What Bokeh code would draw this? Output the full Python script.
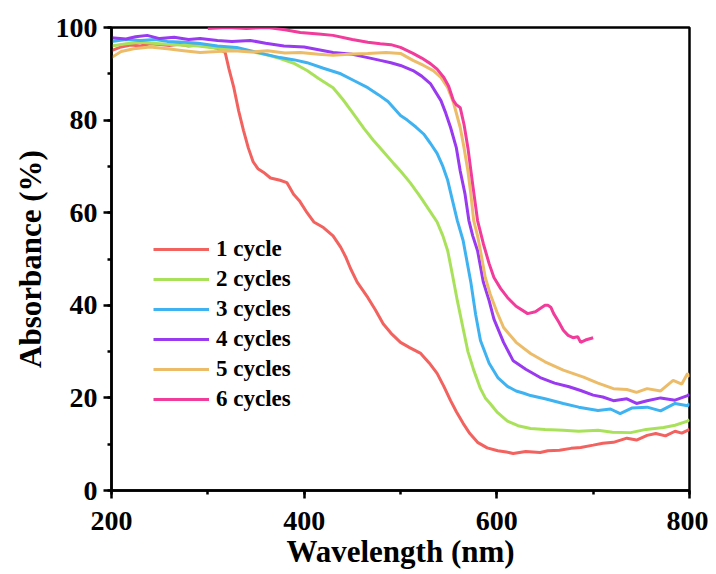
from bokeh.plotting import figure
from bokeh.models import Range1d, SingleIntervalTicker, Legend, LegendItem
from bokeh.embed import file_html
from bokeh.resources import INLINE

# ---- data ----
labels = ["1 cycle", "2 cycles", "3 cycles", "4 cycles", "5 cycles", "6 cycles"]
colors = ["#F2625E", "#A9E25A", "#3FB3F1", "#9A3AF0", "#ECBC68", "#F23C9C"]

x1 = [200,210,220,230,240,250,260,270,280,290,300,310,318,322,327,332,337,342,347,352,358,365,375,382,389,395,403,410,420,430,438,443,448,455,466,474,482,490,500,510,521,530,538,545,552,558,565,572,580,590,601,610,617,630,645,653,665,677,687,700,710,721,735,745,756,765,775,785,792,798,800]
y1 = [95,95.8,96.2,96,96.5,96.3,96.1,96.4,96,96.2,95.9,95.5,94.6,91,87,82,77.8,74,71,69.5,68.7,67.5,67,66.5,64,62.6,60,58,56.8,55,52.5,50.5,48,45,41.7,39,36,34,32,30.8,29.6,27.5,25.3,22.5,19.4,17,14.5,12.3,10.4,9.2,8.6,8.3,8,8.4,8.2,8.6,8.7,9.1,9.3,9.8,10.2,10.4,11.3,10.9,11.9,12.3,11.8,12.8,12.4,13,13.2]

x2 = [200,215,230,250,270,290,310,330,345,355,365,375,390,403,415,430,440,451,462,472,483,493,500,510,521,530,538,544,549,554,559,565,570,576,583,588,593,600,611,622,635,650,669,685,705,720,739,755,773,785,798,800]
y2 = [96,96.5,96.8,96.5,96.2,96,95.5,95.2,94.8,94.4,93.9,93.3,92.2,90.7,89,87,84.5,81.4,78.2,75.6,73,70.6,69,66.5,63.3,60.5,58,55,51.8,46.5,41,35,30,26,22,20,18.8,17,15,14,13.4,13.2,13,12.8,13,12.6,12.5,13.2,13.6,14.1,15,15.3]

x3 = [200,215,230,245,258,275,290,310,330,344,360,375,390,403,420,438,452,466,477,487,500,507,516,524,531,538,544,549,554,559,565,573,578,583,592,601,611,620,628,635,650,669,685,705,718,728,740,756,770,785,798,800]
y3 = [97,97.4,97.2,97.4,97,96.8,96.6,96,95.7,95,94.2,93.5,93,92.4,91.2,90,88.5,87,85.5,84,81,80,78.5,77,75,72.8,70,67,62.6,58.3,54,45,38,32.4,27.5,24.4,22.5,21.5,21,20.5,19.8,18.8,18,17.3,17.6,16.6,17.8,18,17.2,18.8,18.3,18.8]

x4 = [200,215,225,237,250,265,280,292,310,325,344,360,379,400,415,430,450,466,479,490,500,513,522,531,542,547,552,558,562,567,571,575,580,586,592,597,607,617,630,645,660,675,687,700,710,721,735,745,756,770,785,798,800]
y4 = [97.8,97.5,98,98.3,97.6,97.9,97.4,97.6,97.2,97,97.2,96.6,96,95.8,95.2,94.6,94.2,93.5,92.9,92.4,91.8,90.7,89.5,87.9,84.2,81.5,78.4,74,69,64,58.3,55,51.8,45,41,37,32,28,26.2,24.4,23.2,22.4,21.6,20.6,20.2,19.4,19.8,18.8,19.4,20,19.5,20.5,20.8]

x5 = [200,210,223,240,258,275,292,310,327,345,362,380,396,415,430,450,466,485,500,513,524,534,542,549,555,562,566,570,573,576,580,583,588,593,600,607,620,635,650,669,690,705,721,735,745,756,770,783,792,798,800]
y5 = [93.5,94.8,95.4,95.8,95.4,95,94.6,94.8,95,94.7,95,94.5,94.6,94.2,94,94.3,94.4,94.6,94.4,92.9,91.8,90.7,89.2,87,83.8,78.4,74,69,64,58.3,55,51.8,46,42.5,38.6,35.2,32,29.6,27.8,26,24.5,23.2,22,21.8,21.2,22,21.5,23.8,23,25.3,24.5]

x6 = [300,320,340,362,380,396,415,430,450,466,479,490,500,513,522,531,538,545,550,555,558,562,566,570,575,580,586,592,597,604,611,620,632,640,645,650,653,656,659,664,669,674,679,684,687,692,700]
y6 = [99.8,100,99.8,100,99.5,98.9,98.6,98.3,97.4,96.8,96.5,96.3,95.7,94.4,93.4,92.2,91,89.2,87.3,84.2,83.3,82.7,79,74,66,58.3,53.3,49,46,43.6,41.7,39.8,38.2,38.6,39.3,40,40,39.6,38.2,36.5,34.6,33.5,33,33.2,32,32.5,33]

xs = [x1, x2, x3, x4, x5, x6]
ys = [y1, y2, y3, y4, y5, y6]

FONT = "Liberation Serif"

p = figure(width=708, height=574, output_backend="svg", toolbar_location=None,
           x_range=Range1d(200, 800), y_range=Range1d(0, 100),
           min_border_left=111, min_border_right=19, min_border_top=27, min_border_bottom=84)
p.xgrid.visible = False
p.ygrid.visible = False
p.outline_line_color = "black"
p.outline_line_width = 2.5
p.outline_line_alpha = 1.0

p.xaxis.ticker = SingleIntervalTicker(interval=200, num_minor_ticks=2)
p.yaxis.ticker = SingleIntervalTicker(interval=20, num_minor_ticks=2)

for ax in (p.xaxis[0], p.yaxis[0]):
    ax.axis_line_width = 2.5
    ax.major_tick_line_width = 2.5
    ax.minor_tick_line_width = 2.5
    ax.major_tick_in = 0
    ax.major_tick_out = 8
    ax.minor_tick_in = 0
    ax.minor_tick_out = 4
    ax.major_label_text_font = FONT
    ax.major_label_text_font_style = "bold"
    ax.major_label_text_font_size = "28px"
    ax.major_label_text_color = "black"
    ax.axis_label_text_font = FONT
    ax.axis_label_text_font_style = "bold"
    ax.axis_label_text_font_size = "31px"
    ax.axis_label_text_color = "black"

p.xaxis.axis_label = "Wavelength (nm)"
p.yaxis.axis_label = "Absorbance (%)"
p.xaxis.major_label_standoff = 13
p.yaxis.major_label_standoff = 6
p.xaxis.axis_label_standoff = 1
p.yaxis.axis_label_standoff = 5

items = []
for lab, c, x, y in zip(labels, colors, xs, ys):
    r = p.line(x, y, line_color=c, line_width=3)
    items.append(LegendItem(label=lab, renderers=[r]))

legend = Legend(items=items, location=(42, 78), border_line_color=None,
                background_fill_alpha=0, padding=0, margin=0, spacing=4,
                glyph_width=56, glyph_height=26, label_height=26, label_standoff=7,
                label_text_font=FONT, label_text_font_style="bold",
                label_text_font_size="23px", label_text_color="black")
p.add_layout(legend, "center")

open("out.html", "w").write(file_html(p, INLINE))
